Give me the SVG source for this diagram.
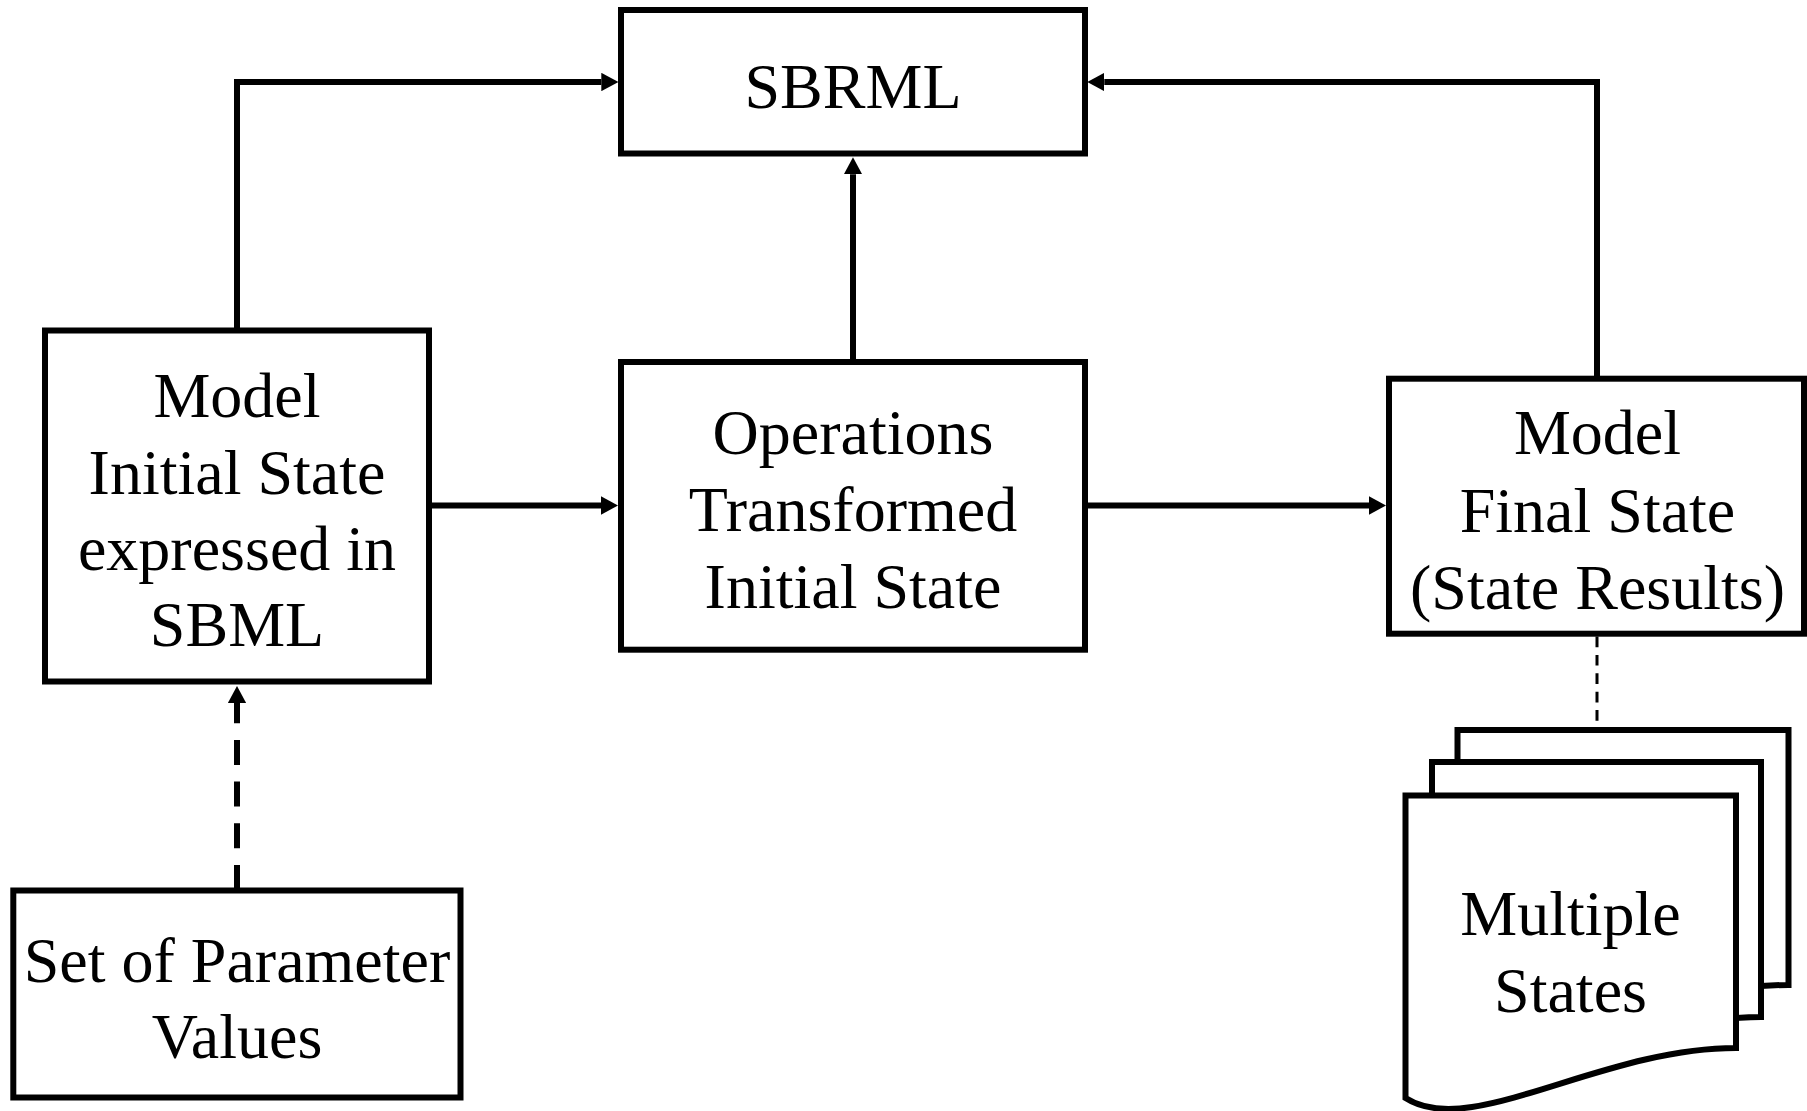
<svg xmlns="http://www.w3.org/2000/svg" width="1807" height="1111" viewBox="0 0 1807 1111">
  <style>
    .box { fill: #ffffff; stroke: #000000; stroke-width: 6; }
    .lbl { font-family: "Liberation Serif", "Times New Roman", serif; font-size: 64px; fill: #000000; text-anchor: middle; }
    .conn { fill: none; stroke: #000000; stroke-width: 6; stroke-linejoin: miter; }
    .dash { stroke-dasharray: 25 16.7; }
    .thin { fill: none; stroke: #000000; stroke-width: 3; stroke-dasharray: 10.7 7.7; }
  </style>
  <defs>
    <marker id="arrow" viewBox="0 0 17 18.4" refX="0" refY="9.2" markerWidth="17" markerHeight="18.4" markerUnits="userSpaceOnUse" orient="auto">
      <path d="M0,0 L17,9.2 L0,18.4 Z" fill="#000000"/>
    </marker>
  </defs>
  <rect width="1807" height="1111" fill="#ffffff"/>

  <g id="connectors">
    <path class="conn" d="M237,330 V82 H601.3" marker-end="url(#arrow)"/>
    <path class="conn" d="M1597,378 V82 H1104.3" marker-end="url(#arrow)"/>
    <path class="conn" d="M853,362 V174.3" marker-end="url(#arrow)"/>
    <path class="conn" d="M429,505.5 H601" marker-end="url(#arrow)"/>
    <path class="conn" d="M1085,505.5 H1369" marker-end="url(#arrow)"/>
    <path class="conn dash" d="M237,890 V703" marker-end="url(#arrow)"/>
    <path class="thin" d="M1597,636.5 V727"/>
  </g>

  <g id="sbrml">
    <rect class="box" x="621" y="10" width="464" height="143.5"/>
    <text class="lbl" x="853" y="107.5">SBRML</text>
  </g>

  <g id="model-initial-state">
    <rect class="box" x="45" y="330.5" width="384" height="351"/>
    <text class="lbl" x="237" y="417">Model</text>
    <text class="lbl" x="237" y="493.5">Initial State</text>
    <text class="lbl" x="237" y="570">expressed in</text>
    <text class="lbl" x="237" y="646">SBML</text>
  </g>

  <g id="operations">
    <rect class="box" x="621" y="362" width="464" height="287.7"/>
    <text class="lbl" x="853" y="454">Operations</text>
    <text class="lbl" x="853" y="531">Transformed</text>
    <text class="lbl" x="853" y="608">Initial State</text>
  </g>

  <g id="model-final-state">
    <rect class="box" x="1389" y="378.7" width="415" height="255"/>
    <text class="lbl" x="1597.5" y="454">Model</text>
    <text class="lbl" x="1597.5" y="531.5">Final State</text>
    <text class="lbl" x="1597.5" y="609">(State Results)</text>
  </g>

  <g id="parameter-values">
    <rect class="box" x="13.3" y="890.5" width="447.2" height="207"/>
    <text class="lbl" x="237" y="981.7">Set of Parameter</text>
    <text class="lbl" x="237" y="1058.3">Values</text>
  </g>

  <g id="multiple-states">
    <path class="box" d="M1457.5,730 H1788.5 V985 C1652,985 1522,1077 1457.5,1035 Z"/>
    <path class="box" d="M1432,762 H1761 V1017 C1626,1017 1496,1109 1432,1067 Z"/>
    <path class="box" d="M1405.5,795.5 H1736 V1048 C1600,1048 1470,1140 1405.5,1098 Z"/>
    <text class="lbl" x="1570.5" y="935">Multiple</text>
    <text class="lbl" x="1570.5" y="1011.7">States</text>
  </g>
</svg>
